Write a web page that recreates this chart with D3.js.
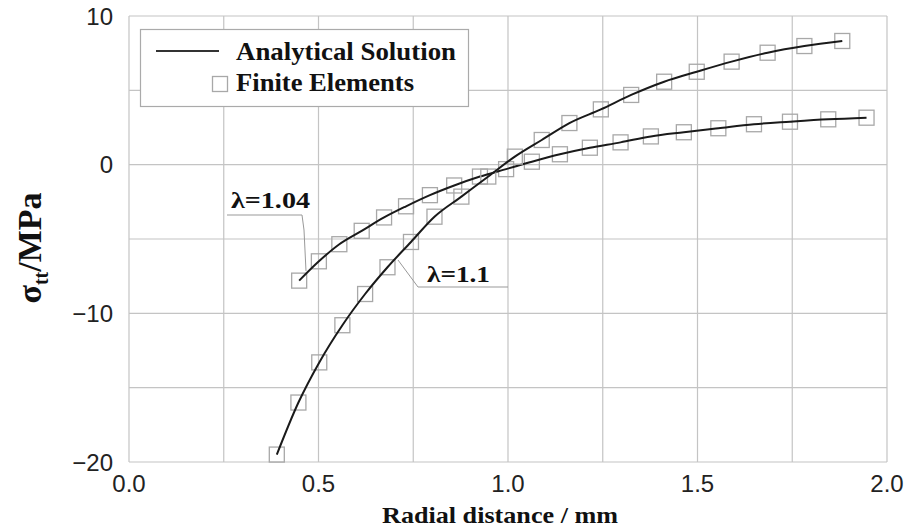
<!DOCTYPE html>
<html>
<head>
<meta charset="utf-8">
<script src="https://cdn.jsdelivr.net/npm/d3@7"></script>
<style>
  body { margin: 0; background: #fff; }
  svg { display: block; }
  .serif { font-family: "Liberation Serif", "Times New Roman", serif; font-weight: bold; fill: #111; }
  .tick-label { font-family: "Liberation Sans", Arial, sans-serif; font-size: 24px; fill: #222; }
</style>
</head>
<body>
<script>
var width = 905,
    height = 531;

// radial distance (mm) / stress (MPa)
var xFE104 = [0.449, 0.501, 0.555, 0.614, 0.673, 0.731, 0.794, 0.858, 0.926, 0.995, 1.063, 1.137, 1.216, 1.297, 1.377, 1.464, 1.555, 1.649, 1.744, 1.845, 1.946];
var yFE104 = [-7.8, -6.5, -5.35, -4.45, -3.55, -2.8, -2.05, -1.4, -0.8, -0.3, 0.2, 0.7, 1.14, 1.5, 1.9, 2.18, 2.45, 2.72, 2.89, 3.05, 3.16];
var xFE110 = [0.39, 0.447, 0.502, 0.563, 0.623, 0.682, 0.744, 0.806, 0.877, 0.948, 1.018, 1.089, 1.162, 1.245, 1.325, 1.412, 1.498, 1.59, 1.685, 1.782, 1.882];
var yFE110 = [-19.5, -16.0, -13.3, -10.8, -8.7, -6.9, -5.2, -3.5, -2.15, -0.8, 0.54, 1.66, 2.8, 3.72, 4.69, 5.58, 6.25, 6.93, 7.53, 7.98, 8.32];

var xTicks = [0, 0.5, 1, 1.5, 2];
var yTicks = [10, 0, -10, -20];
var xGrid = [0, 0.25, 0.5, 0.75, 1, 1.25, 1.5, 1.75, 2];
var yGrid = [10, 5, 0, -5, -10, -15, -20];

var legendLabels = ["Analytical Solution", "Finite Elements"];

var x = d3.scaleLinear().domain([0, 2]).range([129, 887]);
var y = d3.scaleLinear().domain([-20, 10]).range([462, 16]);

var svg = d3.select("body").append("svg")
    .attr("width", width)
    .attr("height", height);

// grid
svg.append("g").selectAll("line")
    .data(xGrid)
    .enter().append("line")
    .attr("x1", function (d) { return x(d); })
    .attr("x2", function (d) { return x(d); })
    .attr("y1", y(10))
    .attr("y2", y(-20))
    .attr("stroke", "#c4c4c4")
    .attr("stroke-width", 1.2);

svg.append("g").selectAll("line")
    .data(yGrid)
    .enter().append("line")
    .attr("y1", function (d) { return y(d); })
    .attr("y2", function (d) { return y(d); })
    .attr("x1", x(0))
    .attr("x2", x(2))
    .attr("stroke", "#c4c4c4")
    .attr("stroke-width", 1.2);

// tick labels
svg.append("g").selectAll("text")
    .data(yTicks)
    .enter().append("text")
    .attr("class", "tick-label")
    .attr("x", 113)
    .attr("y", function (d) { return y(d); })
    .attr("dy", "0.36em")
    .attr("text-anchor", "end")
    .text(function (d) { return d < 0 ? "\u2212" + Math.abs(d) : d; });

svg.append("g").selectAll("text")
    .data(xTicks)
    .enter().append("text")
    .attr("class", "tick-label")
    .attr("x", function (d) { return x(d); })
    .attr("y", 492)
    .attr("text-anchor", "middle")
    .text(function (d) { return d3.format(".1f")(d); });

// axis titles
svg.append("text")
    .attr("class", "serif")
    .attr("x", 500)
    .attr("y", 523)
    .attr("text-anchor", "middle")
    .attr("font-size", 23)
    .attr("textLength", 236)
    .attr("lengthAdjust", "spacingAndGlyphs")
    .text("Radial distance / mm");

var yt = svg.append("text")
    .attr("class", "serif")
    .attr("transform", "translate(41,248) rotate(-90)")
    .attr("text-anchor", "middle")
    .attr("font-size", 34);
yt.append("tspan").text("\u03c3");
yt.append("tspan").attr("font-size", 20).attr("dy", 7).text("tt");
yt.append("tspan").attr("dy", -7).text("/MPa");

// leader lines for the lambda labels
var leader = d3.line();
svg.append("path")
    .attr("d", leader([[227, 215], [302, 215], [304, 230], [306, 271]]))
    .attr("fill", "none")
    .attr("stroke", "#999")
    .attr("stroke-width", 1);
svg.append("path")
    .attr("d", leader([[398, 260], [418, 287], [508, 287]]))
    .attr("fill", "none")
    .attr("stroke", "#999")
    .attr("stroke-width", 1);

svg.append("text")
    .attr("class", "serif")
    .attr("x", 231)
    .attr("y", 208)
    .attr("font-size", 24)
    .attr("textLength", 79)
    .attr("lengthAdjust", "spacingAndGlyphs")
    .text("\u03bb=1.04");
svg.append("text")
    .attr("class", "serif")
    .attr("x", 427)
    .attr("y", 282)
    .attr("font-size", 24)
    .attr("textLength", 63)
    .attr("lengthAdjust", "spacingAndGlyphs")
    .text("\u03bb=1.1");

// series
var series = [
    { xs: xFE104, ys: yFE104 },
    { xs: xFE110, ys: yFE110 }
];

var line = d3.line()
    .x(function (d) { return x(d[0]); })
    .y(function (d) { return y(d[1]); })
    .curve(d3.curveMonotoneX);

series.forEach(function (s) {
    var pts = s.xs.map(function (v, i) { return [v, s.ys[i]]; });

    svg.append("g").selectAll("rect")
        .data(pts)
        .enter().append("rect")
        .attr("x", function (d) { return x(d[0]) - 7.5; })
        .attr("y", function (d) { return y(d[1]) - 7.5; })
        .attr("width", 15)
        .attr("height", 15)
        .attr("fill", "none")
        .attr("stroke", "#a8a8a8")
        .attr("stroke-width", 1.3);

    svg.append("path")
        .datum(pts)
        .attr("d", line)
        .attr("fill", "none")
        .attr("stroke", "#1a1a1a")
        .attr("stroke-width", 2);
});

// legend
var legend = svg.append("g");
legend.append("rect")
    .attr("x", 140.5)
    .attr("y", 29.5)
    .attr("width", 328)
    .attr("height", 77)
    .attr("fill", "#fff")
    .attr("stroke", "#aaa")
    .attr("stroke-width", 1.2);
legend.append("line")
    .attr("x1", 156)
    .attr("x2", 219)
    .attr("y1", 51)
    .attr("y2", 51)
    .attr("stroke", "#333")
    .attr("stroke-width", 2);
legend.append("rect")
    .attr("x", 212.5)
    .attr("y", 76.5)
    .attr("width", 15)
    .attr("height", 15)
    .attr("fill", "none")
    .attr("stroke", "#a8a8a8")
    .attr("stroke-width", 1.3);
legend.selectAll("text.leg")
    .data(legendLabels)
    .enter().append("text")
    .attr("class", "serif leg")
    .attr("x", 236)
    .attr("y", function (d, i) { return 60 + i * 31; })
    .attr("font-size", 25)
    .attr("textLength", function (d, i) { return i === 0 ? 220 : 178; })
    .attr("lengthAdjust", "spacingAndGlyphs")
    .text(function (d) { return d; });
</script>
</body>
</html>
